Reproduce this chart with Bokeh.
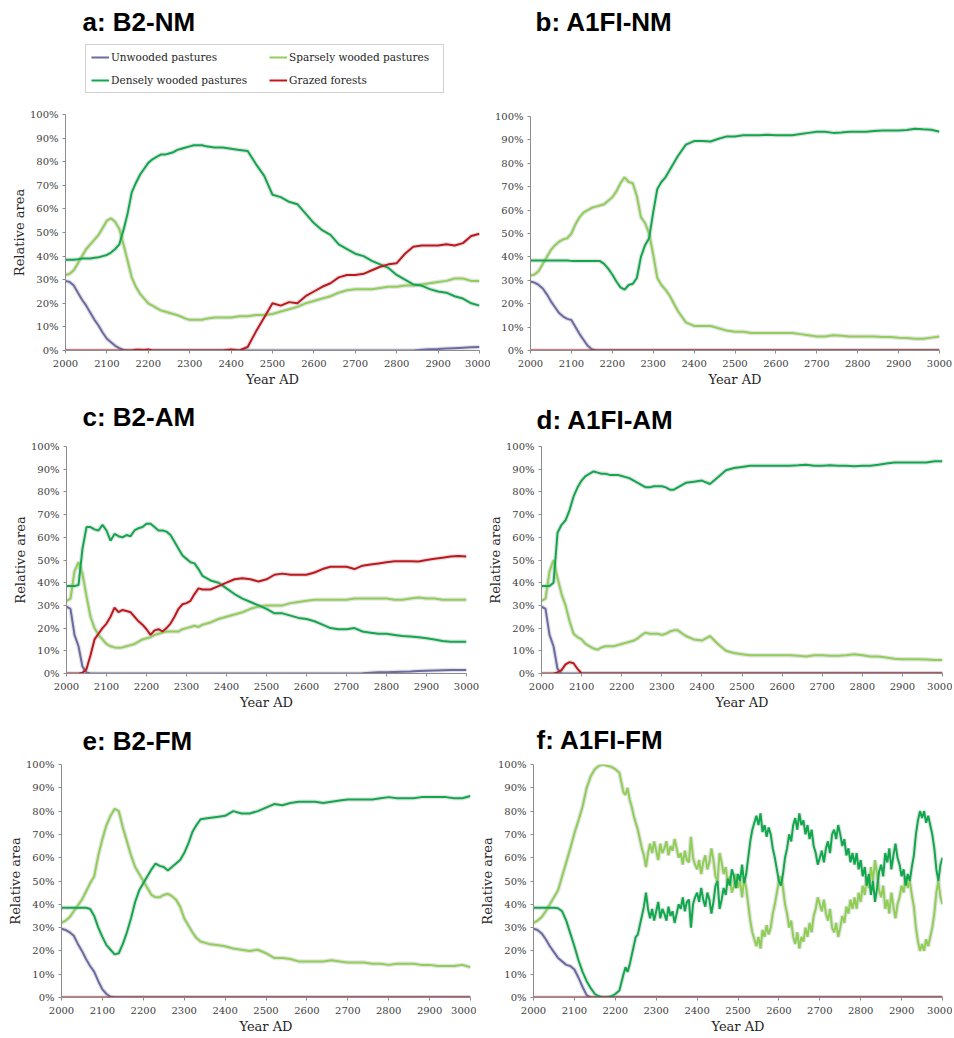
from bokeh.plotting import figure
from bokeh.models import (Range1d, FixedTicker, PrintfTickFormatter, Legend,
                          LegendItem, Title)
from bokeh.layouts import column, row
from bokeh.embed import file_html
from bokeh.resources import INLINE

# ---------------- data (percent of area) ----------------
SERIES_NAMES = ["Unwooded pastures", "Sparsely wooded pastures",
                "Densely wooded pastures", "Grazed forests"]
X_TICKS = [2000, 2100, 2200, 2300, 2400, 2500, 2600, 2700, 2800, 2900, 3000]
Y_TICKS = [0, 10, 20, 30, 40, 50, 60, 70, 80, 90, 100]

YEARS = [2000, 2010, 2020, 2030, 2040, 2050, 2060, 2070, 2080, 2090,
         2100, 2110, 2120, 2130, 2140, 2150, 2160, 2170, 2180, 2190,
         2200, 2210, 2220, 2230, 2240, 2250, 2260, 2270, 2280, 2290,
         2300, 2310, 2320, 2330, 2340,
         2360, 2380, 2400, 2420, 2440, 2460, 2480, 2500, 2520, 2540,
         2560, 2580, 2600, 2620, 2640, 2660, 2680, 2700, 2720, 2740,
         2760, 2780, 2800, 2820, 2840, 2860, 2880, 2900, 2920, 2940,
         2960, 2980, 3000]

# panel f is read more finely (10-year steps, then 5-year steps)
YEARS_F = [2000, 2010, 2020, 2030, 2040, 2050, 2060, 2070, 2080, 2090,
           2100, 2110, 2120, 2130, 2140, 2150, 2160, 2170, 2180, 2190,
           2200, 2210, 2220,
           2225, 2230, 2235, 2240, 2245, 2250, 2255, 2260, 2265, 2270,
           2275, 2280, 2285, 2290, 2295, 2300, 2305, 2310, 2315, 2320,
           2325, 2330, 2335, 2340, 2345, 2350, 2355, 2360, 2365, 2370,
           2375, 2380, 2385, 2390, 2395, 2400, 2405, 2410, 2415, 2420,
           2425, 2430, 2435, 2440, 2445, 2450, 2455, 2460, 2465, 2470,
           2475, 2480, 2485, 2490, 2495, 2500, 2505, 2510, 2515, 2520,
           2525, 2530, 2535, 2540, 2545, 2550, 2555, 2560, 2565, 2570,
           2575, 2580, 2585, 2590, 2595, 2600, 2605, 2610, 2615, 2620,
           2625, 2630, 2635, 2640, 2645, 2650, 2655, 2660, 2665, 2670,
           2675, 2680, 2685, 2690, 2695, 2700, 2705, 2710, 2715, 2720,
           2725, 2730, 2735, 2740, 2745, 2750, 2755, 2760, 2765, 2770,
           2775, 2780, 2785, 2790, 2795, 2800, 2805, 2810, 2815, 2820,
           2825, 2830, 2835, 2840, 2845, 2850, 2855, 2860, 2865, 2870,
           2875, 2880, 2885, 2890, 2895, 2900, 2905, 2910, 2915, 2920,
           2925, 2930, 2935, 2940, 2945, 2950, 2955, 2960, 2965, 2970,
           2975, 2980, 2985, 2990, 2995, 3000]

# a: B2-NM
A_UNWOODED = [29.5, 29, 27.5, 24.5, 21.5, 19, 16, 13, 10.5, 7.5,
              5, 3.5, 2, 1, 0.2, 0, 0, 0, 0, 0,
              0, 0, 0, 0, 0, 0, 0, 0, 0, 0,
              0, 0, 0, 0, 0,
              0, 0, 0, 0, 0, 0, 0, 0, 0, 0,
              0, 0, 0, 0, 0, 0, 0, 0, 0, 0,
              0, 0, 0, 0, 0, 0.3, 0.5, 0.6, 0.8, 1.0,
              1.2, 1.4, 1.5]
A_SPARSE = [32, 32.5, 34, 37, 40, 43, 45, 47, 49, 52,
            55, 56, 54.5, 51.5, 45, 38, 31, 27, 24, 22,
            20, 19, 18, 17, 16.5, 16, 15.5, 15, 14.3, 13.5,
            13, 13, 13, 13, 13.5,
            14, 14, 14, 14.5, 14.5, 15, 15, 15.5, 16.5, 17.5,
            18.5, 20, 21, 22, 23, 24.5, 25.5, 26, 26, 26,
            26.5, 27, 27, 27.5, 27.5, 28, 28.5, 29, 29.5, 30.5,
            30.5, 29.5, 29.5]
A_DENSE = [38.5, 38.5, 38.5, 38.7, 39, 39, 39, 39.3, 39.5, 40,
           40.5, 41.5, 43, 45, 51, 58, 67, 71, 74.5, 77,
           79.5, 81, 82, 83, 83, 83.5, 84, 85, 85.5, 86,
           86.5, 87, 87, 87, 86.5,
           86, 86, 85.5, 85, 84.5, 79, 74, 66, 65, 63,
           62, 58, 54, 51, 49, 45, 43, 41, 40, 38,
           36.5, 35, 32, 30, 28, 27.5, 26, 25, 24.5, 23,
           22, 20, 19]
A_GRAZED = [0, 0, 0, 0, 0, 0, 0, 0, 0, 0,
            0, 0, 0, 0, 0, 0, 0, 0.3, 0.3, 0.2,
            0.4, 0, 0, 0, 0, 0, 0, 0, 0, 0,
            0, 0, 0, 0, 0,
            0, 0, 0.4, 0, 1.5, 8, 14, 20, 19, 20.5,
            20, 23, 25, 27, 28.5, 31, 32, 32, 32.5, 34,
            35.5, 36.5, 37, 41, 44, 44.5, 44.5, 44.5, 45, 44.5,
            45.5, 48.5, 49.5]

# b: A1FI-NM
B_UNWOODED = [29.5, 29, 28, 26.5, 24, 21, 18.5, 16, 14.5, 13.5,
              13, 10, 7, 4.5, 2, 0.5, 0, 0, 0, 0,
              0, 0, 0, 0, 0, 0, 0, 0, 0, 0,
              0, 0, 0, 0, 0,
              0, 0, 0, 0, 0, 0, 0, 0, 0, 0,
              0, 0, 0, 0, 0, 0, 0, 0, 0, 0,
              0, 0, 0, 0, 0, 0, 0, 0, 0, 0,
              0, 0, 0]
B_SPARSE = [32, 32.5, 34, 37, 40, 43, 45, 46.5, 47.5, 48,
            50, 54, 57, 59, 60, 61, 61.5, 62, 62.5, 64,
            65.5, 68, 71.5, 74, 72, 71.5, 66, 57, 54.5, 50,
            41, 31, 28, 26, 23.5,
            17, 12, 10.5, 10.5, 10.5, 9.5, 8.5, 8, 8, 7.5,
            7.5, 7.5, 7.5, 7.5, 7.5, 7, 6.5, 6, 6, 6.5,
            6.3, 6, 6, 6, 6, 5.8, 5.8, 5.5, 5.3, 5,
            5, 5.5, 6]
B_DENSE = [38.5, 38.5, 38.5, 38.5, 38.5, 38.5, 38.5, 38.5, 38.5, 38.5,
           38.3, 38.2, 38.2, 38.2, 38.2, 38.2, 38.2, 38.2, 37, 35,
           32.5, 29.5, 27, 26, 28, 28.5, 31, 40, 45, 48,
           59, 69, 72, 74, 77,
           83, 88, 89.5, 89.5, 89.3, 90.5, 91.5, 91.5, 92, 92,
           92, 92.2, 92, 92, 92, 92.5, 93, 93.5, 93.5, 93,
           93.2, 93.5, 93.5, 93.5, 93.8, 94, 94, 94, 94.2, 94.8,
           94.5, 94.3, 93.5]
B_GRAZED = [0, 0, 0, 0, 0, 0, 0, 0, 0, 0,
            0, 0, 0, 0, 0, 0, 0, 0, 0, 0,
            0, 0, 0, 0, 0, 0, 0, 0, 0, 0,
            0, 0, 0, 0, 0,
            0, 0, 0, 0, 0, 0, 0, 0, 0, 0,
            0, 0, 0, 0, 0, 0, 0, 0, 0, 0,
            0, 0, 0, 0, 0, 0, 0, 0, 0, 0,
            0, 0, 0]

# c: B2-AM
C_UNWOODED = [29.5, 28.5, 17, 12, 3, 0.5, 0, 0, 0, 0,
              0, 0, 0, 0, 0, 0, 0, 0, 0, 0,
              0, 0, 0, 0, 0, 0, 0, 0, 0, 0,
              0, 0, 0, 0, 0,
              0, 0, 0, 0, 0, 0, 0, 0, 0, 0,
              0, 0, 0, 0, 0, 0, 0, 0, 0, 0.1,
              0.3, 0.5, 0.6, 0.7, 0.8, 0.9, 1.1, 1.2, 1.3, 1.4,
              1.5, 1.5, 1.5]
C_SPARSE = [32, 33, 45, 49, 44, 34, 25, 20, 17, 15,
            13, 12, 11.5, 11.3, 11.5, 12, 12.5, 13, 14, 15,
            15.5, 16, 17, 17.5, 18, 18.5, 18.5, 18.5, 18.5, 19.5,
            20, 20.5, 21, 20.5, 21.5,
            22.5, 24, 25, 26, 27, 28.5, 29.5, 30, 30, 30,
            31, 31.5, 32, 32.5, 32.5, 32.5, 32.5, 32.5, 33, 33,
            33, 33, 33, 32.5, 32.5, 33, 33.5, 33, 33, 32.5,
            32.5, 32.5, 32.5]
C_DENSE = [38.5, 38.5, 38.5, 39, 55, 64.5, 64.5, 63.5, 63, 65.5,
           63, 58.5, 61.5, 60.5, 60, 61, 60.5, 63, 64, 64.5,
           66, 66, 64.5, 63, 63, 62.5, 61, 58, 55, 52,
           50.5, 49, 48.5, 46, 43,
           41, 40, 37.5, 35, 33, 31.5, 30, 28.5, 26.5, 26.5,
           25.5, 24.5, 24, 23, 21.5, 20, 19.5, 19.5, 20, 18.5,
           18, 17.5, 17.5, 17, 16.5, 16.3, 16, 15.5, 15, 14.3,
           14, 14, 14]
C_GRAZED = [0, 0, 0, 0, 0.3, 2, 8, 15, 17.5, 20,
            22, 25, 29, 27, 28, 27.5, 27, 25, 23, 21.5,
            19.5, 17, 19, 19.5, 18.5, 20, 22, 25, 28.5, 30.5,
            31, 32, 35, 37.5, 37,
            37, 38.5, 40, 41.5, 42, 41.5, 40.5, 41.5, 43.5, 44,
            43.5, 43.5, 43.5, 44.5, 46, 47, 47, 47, 46, 47.5,
            48, 48.5, 49, 49.5, 49.5, 49.5, 49.3, 50, 50.5, 51,
            51.5, 51.8, 51.5]

# d: A1FI-AM
D_UNWOODED = [29.5, 28.5, 17, 12, 2, 0, 0, 0, 0, 0,
              0, 0, 0, 0, 0, 0, 0, 0, 0, 0,
              0, 0, 0, 0, 0, 0, 0, 0, 0, 0,
              0, 0, 0, 0, 0,
              0, 0, 0, 0, 0, 0, 0, 0, 0, 0,
              0, 0, 0, 0, 0, 0, 0, 0, 0, 0,
              0, 0, 0, 0, 0, 0, 0, 0, 0, 0,
              0, 0, 0]
D_SPARSE = [32, 33, 45, 50, 42, 35, 30, 23, 17.5, 16,
            15, 13, 12, 11, 10.5, 11.5, 12, 12, 12, 12.5,
            13, 13.5, 14, 14.5, 15.5, 17, 18, 17.5, 17.5, 17.5,
            17, 17.5, 18.5, 19, 19,
            16.5, 15, 14.5, 16.5, 13, 10, 9, 8.5, 8, 8,
            8, 8, 8, 8, 7.8, 7.5, 8, 8, 7.8, 7.8,
            8, 8.5, 8, 7.5, 7.5, 7, 6.5, 6.3, 6.3, 6.3,
            6.2, 6, 6]
D_DENSE = [38.5, 38.5, 38.5, 40, 62, 65.5, 67.5, 72, 78, 82,
           85, 87, 88, 89, 88.5, 88, 88, 87.5, 87.5, 87.5,
           87, 86.5, 86, 85, 84, 83, 82, 82, 82.5, 82.5,
           82.5, 82, 81, 81, 82,
           84, 84.5, 85, 83.5, 86.5, 89.5, 90.5, 91, 91.5, 91.5,
           91.5, 91.5, 91.5, 91.5, 91.7, 92, 91.5, 91.5, 91.7, 91.5,
           91.5, 91.3, 91.5, 91.5, 92, 92.5, 93, 93, 93, 93,
           93, 93.5, 93.5]
D_GRAZED = [0, 0, 0, 0, 0.5, 1.5, 4, 5, 4.5, 2,
            0, 0, 0, 0, 0, 0, 0, 0, 0, 0,
            0, 0, 0, 0, 0, 0, 0, 0, 0, 0,
            0, 0, 0, 0, 0,
            0, 0, 0, 0, 0, 0, 0, 0, 0, 0,
            0, 0, 0, 0, 0, 0, 0, 0, 0, 0,
            0, 0, 0, 0, 0, 0, 0, 0, 0, 0,
            0, 0, 0]

# e: B2-FM
E_UNWOODED = [29.5, 29, 28, 26.5, 23, 20, 16.5, 13.5, 11, 7,
              3.5, 1.5, 0.3, 0, 0, 0, 0, 0, 0, 0,
              0, 0, 0, 0, 0, 0, 0, 0, 0, 0,
              0, 0, 0, 0, 0,
              0, 0, 0, 0, 0, 0, 0, 0, 0, 0,
              0, 0, 0, 0, 0, 0, 0, 0, 0, 0,
              0, 0, 0, 0, 0, 0, 0, 0, 0, 0,
              0, 0, 0]
E_SPARSE = [32, 33, 34.5, 37, 39.5, 42, 45.5, 49, 52, 61,
            68, 74, 78, 81, 80, 73, 67, 61, 56, 53,
            50, 47, 44, 43, 43, 44, 44.5, 43.5, 42, 39,
            34, 31, 28, 25.5, 24,
            23, 22.5, 22, 21, 20.5, 20, 20.5, 19, 17, 17,
            16.5, 15.5, 15.5, 15.5, 15.5, 16, 15.5, 15, 15, 15,
            14.5, 14.5, 14, 14.5, 14.5, 14.5, 14, 14, 13.5, 13.5,
            13.5, 14, 13]
E_DENSE = [38.5, 38.5, 38.5, 38.5, 38.5, 38.5, 38.5, 38, 35, 30,
           26, 22.5, 20.5, 18.5, 19, 23, 28, 34, 41, 46,
           49, 52, 55, 57.5, 56.5, 56, 54.5, 56, 57.5, 59,
           62, 66, 71, 74, 76.5,
           77, 77.5, 78, 80, 79, 79, 80, 81.5, 83, 82.5,
           83.5, 84, 84, 84, 83.5, 84, 84.5, 85, 85, 85,
           85, 85.5, 86, 85.5, 85.5, 85.5, 86, 86, 86, 86,
           85.5, 85.5, 86.5]
E_GRAZED = [0, 0, 0, 0, 0, 0, 0, 0, 0, 0,
            0, 0, 0, 0, 0, 0, 0, 0, 0, 0,
            0, 0, 0, 0, 0, 0, 0, 0, 0, 0,
            0, 0, 0, 0, 0,
            0, 0, 0, 0, 0, 0, 0, 0, 0, 0,
            0, 0, 0, 0, 0, 0, 0, 0, 0, 0,
            0, 0, 0, 0, 0, 0, 0, 0, 0, 0,
            0, 0, 0]

# f: A1FI-FM
F_UNWOODED = [29.5, 29, 27.5, 25, 22, 19.5, 17, 15.5, 14, 13.5,
              12, 8.5, 4.5, 1, 0, 0, 0, 0, 0, 0,
              0, 0, 0,
              0, 0, 0, 0, 0, 0, 0, 0, 0, 0,
              0, 0, 0, 0, 0, 0, 0, 0, 0, 0,
              0, 0, 0, 0, 0, 0, 0, 0, 0, 0,
              0, 0, 0, 0, 0, 0, 0, 0, 0, 0,
              0, 0, 0, 0, 0, 0, 0, 0, 0, 0,
              0, 0, 0, 0, 0, 0, 0, 0, 0, 0,
              0, 0, 0, 0, 0, 0, 0, 0, 0, 0,
              0, 0, 0, 0, 0, 0, 0, 0, 0, 0,
              0, 0, 0, 0, 0, 0, 0, 0, 0, 0,
              0, 0, 0, 0, 0, 0, 0, 0, 0, 0,
              0, 0, 0, 0, 0, 0, 0, 0, 0, 0,
              0, 0, 0, 0, 0, 0, 0, 0, 0, 0,
              0, 0, 0, 0, 0, 0, 0, 0, 0, 0,
              0, 0, 0, 0, 0, 0, 0, 0, 0, 0,
              0, 0, 0, 0, 0, 0, 0, 0, 0, 0,
              0, 0, 0, 0, 0, 0]
F_SPARSE = [32, 33, 34.5, 37, 40, 43, 46, 52, 58, 64,
            70.5, 76, 82, 90, 95, 98, 99.5, 100, 99.5, 99,
            98, 96.5, 88,
            87, 90, 85, 82, 78, 75, 72, 68, 64, 61,
            56, 62, 66, 62, 67, 63, 59, 66, 62, 64,
            67, 61, 65, 63, 68, 64, 60, 62, 57, 63,
            59, 58, 69, 60, 57, 55, 59, 53, 58, 61,
            55, 58, 64, 59, 52, 50, 62, 58, 53, 56,
            49, 52, 45, 48, 53, 47, 50, 43, 51, 47,
            40, 33, 28, 25, 22, 26, 21, 29, 26, 31,
            27, 30, 36, 40, 45, 50, 52, 47, 40, 36,
            30, 33, 26, 23, 28, 21, 26, 24, 30, 26,
            32, 28, 35, 38, 43, 40, 37, 42, 36, 33,
            38, 30, 28, 32, 26, 30, 35, 32, 39, 36,
            42, 38, 43, 38, 45, 41, 48, 44, 52, 47,
            56, 50, 59, 53, 46, 43, 48, 38, 42, 36,
            45, 39, 34, 40, 43, 48, 45, 52, 47, 50,
            44, 39, 30, 24, 20, 23, 20, 25, 22, 26,
            30, 36, 45, 50, 43, 40]
F_DENSE = [38.5, 38.5, 38.5, 38.5, 38.5, 38.5, 38.3, 37, 33, 27.5,
           22, 16, 11, 7, 4, 1.5, 0.5, 0, 0, 0.5,
           1.5, 3, 10,
           13, 11, 14, 18, 22, 26, 27, 31, 35, 39,
           45, 38, 34, 38, 33, 37, 41, 34, 38, 36,
           33, 39, 35, 37, 32, 36, 40, 38, 43, 37,
           41, 42, 30, 40, 43, 45, 41, 47, 42, 39,
           45, 42, 36, 41, 48, 50, 38, 42, 47, 44,
           51, 48, 55, 52, 47, 53, 50, 57, 49, 53,
           60, 67, 72, 75, 78, 74, 79, 71, 74, 69,
           73, 70, 64, 60, 55, 50, 48, 53, 60, 64,
           70, 67, 74, 77, 72, 79, 74, 76, 70, 74,
           68, 72, 65, 62, 57, 60, 63, 58, 64, 67,
           62, 70, 72, 68, 74, 70, 65, 68, 61, 64,
           58, 62, 57, 62, 55, 59, 52, 56, 48, 53,
           44, 50, 41, 47, 54, 57, 52, 62, 58, 64,
           55, 61, 66, 60, 57, 52, 55, 48, 53, 50,
           56, 61, 70, 76, 80, 77, 80, 75, 78, 74,
           70, 64, 55, 50, 57, 60]
F_GRAZED = [0, 0, 0, 0, 0, 0, 0, 0, 0, 0,
            0, 0, 0, 0, 0, 0, 0, 0, 0, 0,
            0, 0, 0,
            0, 0, 0, 0, 0, 0, 0, 0, 0, 0,
            0, 0, 0, 0, 0, 0, 0, 0, 0, 0,
            0, 0, 0, 0, 0, 0, 0, 0, 0, 0,
            0, 0, 0, 0, 0, 0, 0, 0, 0, 0,
            0, 0, 0, 0, 0, 0, 0, 0, 0, 0,
            0, 0, 0, 0, 0, 0, 0, 0, 0, 0,
            0, 0, 0, 0, 0, 0, 0, 0, 0, 0,
            0, 0, 0, 0, 0, 0, 0, 0, 0, 0,
            0, 0, 0, 0, 0, 0, 0, 0, 0, 0,
            0, 0, 0, 0, 0, 0, 0, 0, 0, 0,
            0, 0, 0, 0, 0, 0, 0, 0, 0, 0,
            0, 0, 0, 0, 0, 0, 0, 0, 0, 0,
            0, 0, 0, 0, 0, 0, 0, 0, 0, 0,
            0, 0, 0, 0, 0, 0, 0, 0, 0, 0,
            0, 0, 0, 0, 0, 0, 0, 0, 0, 0,
            0, 0, 0, 0, 0, 0]

# ---------------- styling ----------------
COLORS = ["#6b6aa3", "#8fcf55", "#0fa84c", "#c3161c"]
SERIF = "DejaVu Serif"


def make_title(text, dx, standoff):
    return Title(text=text, align="left", offset=dx, standoff=standoff,
                 vertical_align="bottom", text_font="Liberation Sans",
                 text_font_style="bold", text_font_size="26px",
                 text_color="black")


def panel(years, series, width, height, left, right, top, bottom,
          ylabel=True):
    p = figure(width=width, height=height,
               x_range=Range1d(2000, 3000), y_range=Range1d(0, 100),
               output_backend="svg", toolbar_location=None,
               min_border_left=left, min_border_right=right,
               min_border_top=top, min_border_bottom=bottom)
    p.xgrid.visible = False
    p.ygrid.visible = False
    p.outline_line_color = None
    p.background_fill_color = "white"
    p.border_fill_color = "white"

    for vals in series:
        p.line(years, vals, line_color="#808080", line_alpha=0.22,
               line_width=4.5)
    for vals, col in zip(series, COLORS):
        p.line(years, vals, line_color=col, line_width=2)

    for ax in (p.xaxis[0], p.yaxis[0]):
        ax.axis_line_color = "#8c8c8c"
        ax.major_tick_line_color = "#8c8c8c"
        ax.minor_tick_line_color = None
        ax.major_tick_in = 0
        ax.major_tick_out = 3
        ax.major_label_text_font = SERIF
        ax.major_label_text_font_size = "10px"
        ax.major_label_text_color = "#404040"
        ax.axis_label_text_font = SERIF
        ax.axis_label_text_font_size = "13px"
        ax.axis_label_text_font_style = "normal"
        ax.axis_label_text_color = "#262626"
    p.xaxis.ticker = FixedTicker(ticks=X_TICKS)
    p.yaxis.ticker = FixedTicker(ticks=Y_TICKS)
    p.yaxis.formatter = PrintfTickFormatter(format="%d%%")
    p.xaxis.major_label_standoff = 6
    p.yaxis.major_label_standoff = 4
    p.xaxis.axis_label = "Year AD"
    p.xaxis.axis_label_standoff = 2
    if ylabel:
        p.yaxis.axis_label = "Relative area"
        p.yaxis.axis_label_standoff = 0
    return p


def add_title(p, text, dx, spacer):
    # an invisible spacer panel between frame and title, then the title
    p.add_layout(Title(text=" ", text_font_size="1px", standoff=spacer),
                 "above")
    p.add_layout(make_title(text, dx, 0), "above")


# ---- header of panel a: title + legend ----
# (the key lines reuse panel a's series, which fall outside this strip's
#  ranges, so only the legend swatches show)
head = figure(width=490, height=100, x_range=Range1d(0, 1),
              y_range=Range1d(0, 1), x_axis_type=None, y_axis_type=None,
              output_backend="svg", toolbar_location=None,
              min_border_left=65, min_border_right=11,
              min_border_top=40, min_border_bottom=0)
head.xgrid.visible = False
head.ygrid.visible = False
head.outline_line_color = None
head.border_fill_color = "white"
key_renderers = [head.line(YEARS, vals, line_color=c, line_width=2)
                 for vals, c in zip([A_UNWOODED, A_SPARSE, A_DENSE, A_GRAZED],
                                    COLORS)]
legend = Legend(
    items=[LegendItem(label=n, renderers=[r])
           for n, r in zip(SERIES_NAMES, key_renderers)],
    location=(20, 7), orientation="horizontal", ncols=2,
    label_text_font=SERIF, label_text_font_size="10.5px",
    label_text_color="#262626",
    border_line_color="#a6a6a6", border_line_width=1,
    background_fill_color="white", background_fill_alpha=1.0,
    padding=5, spacing=9, margin=0,
    glyph_width=18, glyph_height=14, label_height=14,
    label_width=149, label_standoff=2)
head.add_layout(legend)
head.add_layout(make_title("a: B2-NM", 17, 9), "above")

# row 1
pa = panel(YEARS, [A_UNWOODED, A_SPARSE, A_DENSE, A_GRAZED],
           490, 290, 65, 11, 14, 40)
pb = panel(YEARS, [B_UNWOODED, B_SPARSE, B_DENSE, B_GRAZED],
           462, 390, 40, 13, 116, 40, ylabel=False)
# row 2
pc = panel(YEARS, [C_UNWOODED, C_SPARSE, C_DENSE, C_GRAZED],
           480, 322, 66, 14, 56, 38)
pd_ = panel(YEARS, [D_UNWOODED, D_SPARSE, D_DENSE, D_GRAZED],
            472, 322, 61, 10, 53, 39)
# row 3
pe = panel(YEARS, [E_UNWOODED, E_SPARSE, E_DENSE, E_GRAZED],
           476, 324, 61, 6, 51, 38)
pf = panel(YEARS_F, [F_UNWOODED, F_SPARSE, F_DENSE, F_GRAZED],
           476, 324, 56, 10, 52, 38)

add_title(pb, "b: A1FI-NM", 5, 77)
add_title(pc, "c: B2-AM", 16, 12)
add_title(pd_, "d: A1FI-AM", -5, 9)
add_title(pe, "e: B2-FM", 21, 6)
add_title(pf, "f: A1FI-FM", 3, 7)

layout = column(row(column(head, pa), pb), row(pc, pd_), row(pe, pf))

open("out.html", "w").write(file_html(layout, INLINE, "Relative area"))
